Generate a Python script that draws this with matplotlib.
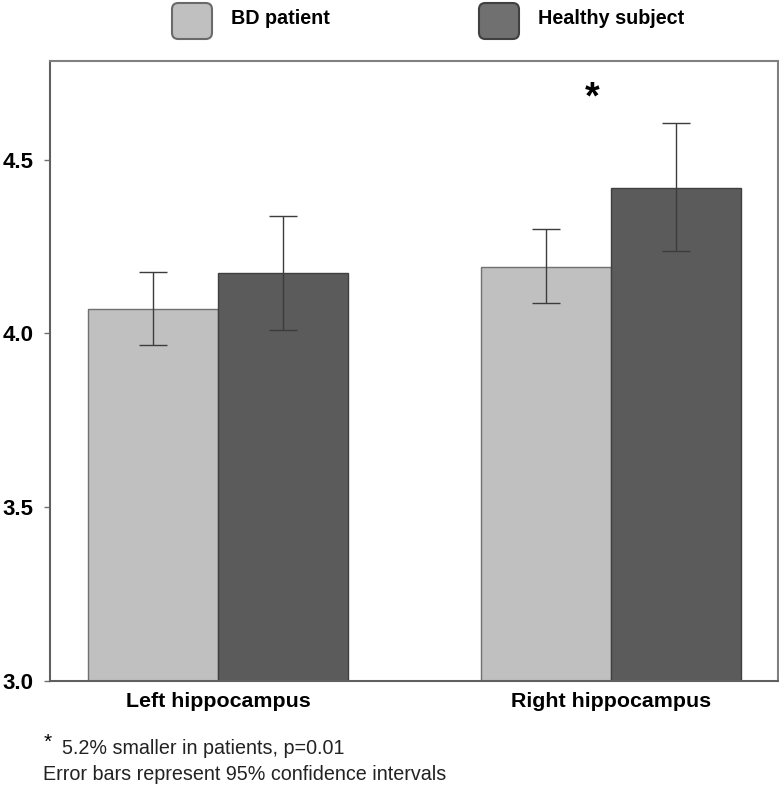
import numpy as np
import matplotlib.pyplot as plt
from matplotlib.patches import FancyBboxPatch

plt.rcParams['font.family'] = ['Liberation Sans', 'DejaVu Sans']

# data
regions = ['Left hippocampus', 'Right hippocampus']
groups = ['BD patient', 'Healthy subject']
bd_mean = [4.07, 4.19]
bd_low = [3.968, 4.089]
bd_high = [4.178, 4.300]
hs_mean = [4.175, 4.42]
hs_low = [4.01, 4.237]
hs_high = [4.338, 4.607]
y_ticks = [3.0, 3.5, 4.0, 4.5]

light = '#c0c0c0'
dark = '#5b5b5b'

fig = plt.figure(figsize=(7.79, 7.96), dpi=100)
ax = fig.add_axes([50 / 779, 115 / 796, 728 / 779, 620 / 796])

x = np.arange(len(regions))
w = 130 / 393

bd_m = np.array(bd_mean)
hs_m = np.array(hs_mean)
bd_err = [bd_m - np.array(bd_low), np.array(bd_high) - bd_m]
hs_err = [hs_m - np.array(hs_low), np.array(hs_high) - hs_m]

ekw = dict(ecolor='#3c3c3c', elinewidth=1.0, capsize=10, capthick=1.0)
ax.bar(x - w / 2, bd_m, w, bottom=0, color=light, edgecolor='#707070',
       linewidth=1.0, yerr=bd_err, error_kw=ekw, zorder=2)
ax.bar(x + w / 2, hs_m, w, bottom=0, color=dark, edgecolor='#404040',
       linewidth=1.0, yerr=hs_err, error_kw=ekw, zorder=2)

ax.set_ylim(3.0, 4.784)
ax.set_xlim(-0.4275, 1.425)
ax.set_yticks(y_ticks)
ax.set_yticklabels([f'{v:.1f}' for v in y_ticks], fontsize=16, fontweight='bold')
ax.set_xticks(x)
ax.set_xticklabels(regions, fontsize=15.4, fontweight='bold')
ax.tick_params(axis='x', length=0, pad=8)
ax.tick_params(axis='y', length=4, width=1, color='#707070', pad=8)
for s in ax.spines.values():
    s.set_color('#808080')
    s.set_linewidth(1.5)
ax.spines['bottom'].set_color('#606060')
ax.spines['left'].set_color('#606060')

# significance marker
ax.text(0.952, 4.676, '*', fontsize=27, fontweight='bold', ha='center', va='center')

# legend with rounded squares
for px, col, ec, label in [(172, light, '#6a6a6a', groups[0]), (479, '#707070', '#404040', groups[1])]:
    box = FancyBboxPatch((px / 779, 757 / 796), 40 / 779, 36 / 796,
                         boxstyle='round,pad=0,rounding_size=0.008',
                         transform=fig.transFigure, facecolor=col,
                         edgecolor=ec, linewidth=1.5)
    fig.patches.append(box)
    fig.text((px + 59) / 779, 1 - 19 / 796, label, fontsize=14.2,
             fontweight='bold', ha='left', va='center')

# footnotes
fig.text(44 / 779, 1 - 742 / 796, '*', fontsize=15, ha='left', va='center')
fig.text(62 / 779, 1 - 748 / 796, '5.2% smaller in patients, p=0.01',
         fontsize=14.2, ha='left', va='center', color='#222222')
fig.text(43 / 779, 1 - 774 / 796, 'Error bars represent 95% confidence intervals',
         fontsize=14.2, ha='left', va='center', color='#222222')

fig.savefig('out.png', dpi=100)
